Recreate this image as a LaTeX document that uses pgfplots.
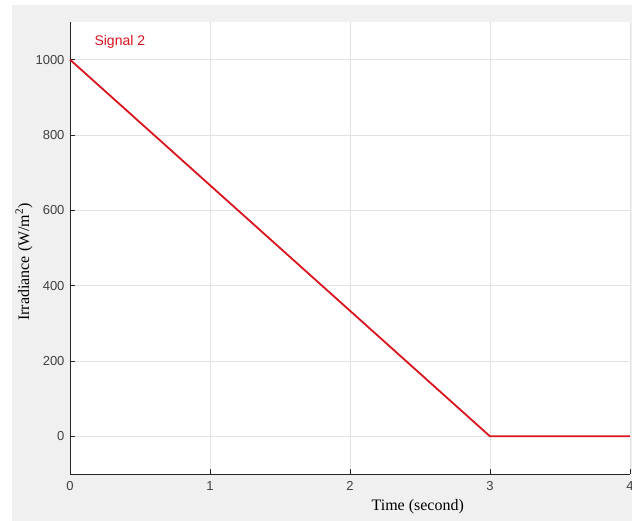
\documentclass[border=0pt]{standalone}
\usepackage{fontspec}
\setmainfont{Liberation Sans}
\newfontfamily\seriffont{Liberation Serif}
\usepackage{pgfplots}
\pgfplotsset{compat=1.18}
\definecolor{bggray}{HTML}{F0F0F0}
\definecolor{gridgray}{HTML}{E3E3E3}
\definecolor{axgray}{HTML}{262626}
\definecolor{ticklab}{HTML}{404040}
\definecolor{sigred}{HTML}{D9141E}
\begin{document}
\begin{tikzpicture}[x=1pt,y=1pt]
\useasboundingbox (0,0) rectangle (632,521);
\fill[white] (0,0) rectangle (632,521);
\fill[bggray] (12,0) rectangle (632,516);
\begin{axis}[
  at={(70pt,47pt)}, anchor=south west,
  scale only axis, width=560pt, height=452pt,
  xmin=0, xmax=4, ymin=-100, ymax=1100,
  xtick={0,1,2,3,4}, ytick={0,200,400,600,800,1000},
  axis x line*=bottom, axis y line*=left,
  axis line style={axgray, line width=0.8pt},
  tick style={axgray, line width=0.8pt},
  tick align=inside, major tick length=5pt,
  grid=major, major grid style={gridgray, line width=0.8pt},
  axis background/.style={fill=white},
  /pgf/number format/assume math mode=true,
  /pgf/number format/set thousands separator={},
  tick label style={font=\fontsize{13}{15}\selectfont, text=ticklab},
  xticklabel style={yshift=-4pt},
  yticklabel style={xshift=-2pt},
  xlabel={Time (second)},
  ylabel={Irradiance (W/m\textsuperscript{2})},
  label style={font=\seriffont\fontsize{16}{18}\selectfont, text=black},
  xlabel style={at={(axis description cs:0.621,0)}, anchor=center, yshift=-33pt},
  ylabel style={at={(axis description cs:-0.082,0.469)}, anchor=center},
  clip=false,
]
\addplot[sigred, line width=1.8pt] coordinates {(0,1000) (3,0) (4,0)};
\node[anchor=west, text=sigred, font=\fontsize{14}{16}\selectfont] at (axis cs:0.15,1048) {Signal 2};
\end{axis}
\end{tikzpicture}
\end{document}
